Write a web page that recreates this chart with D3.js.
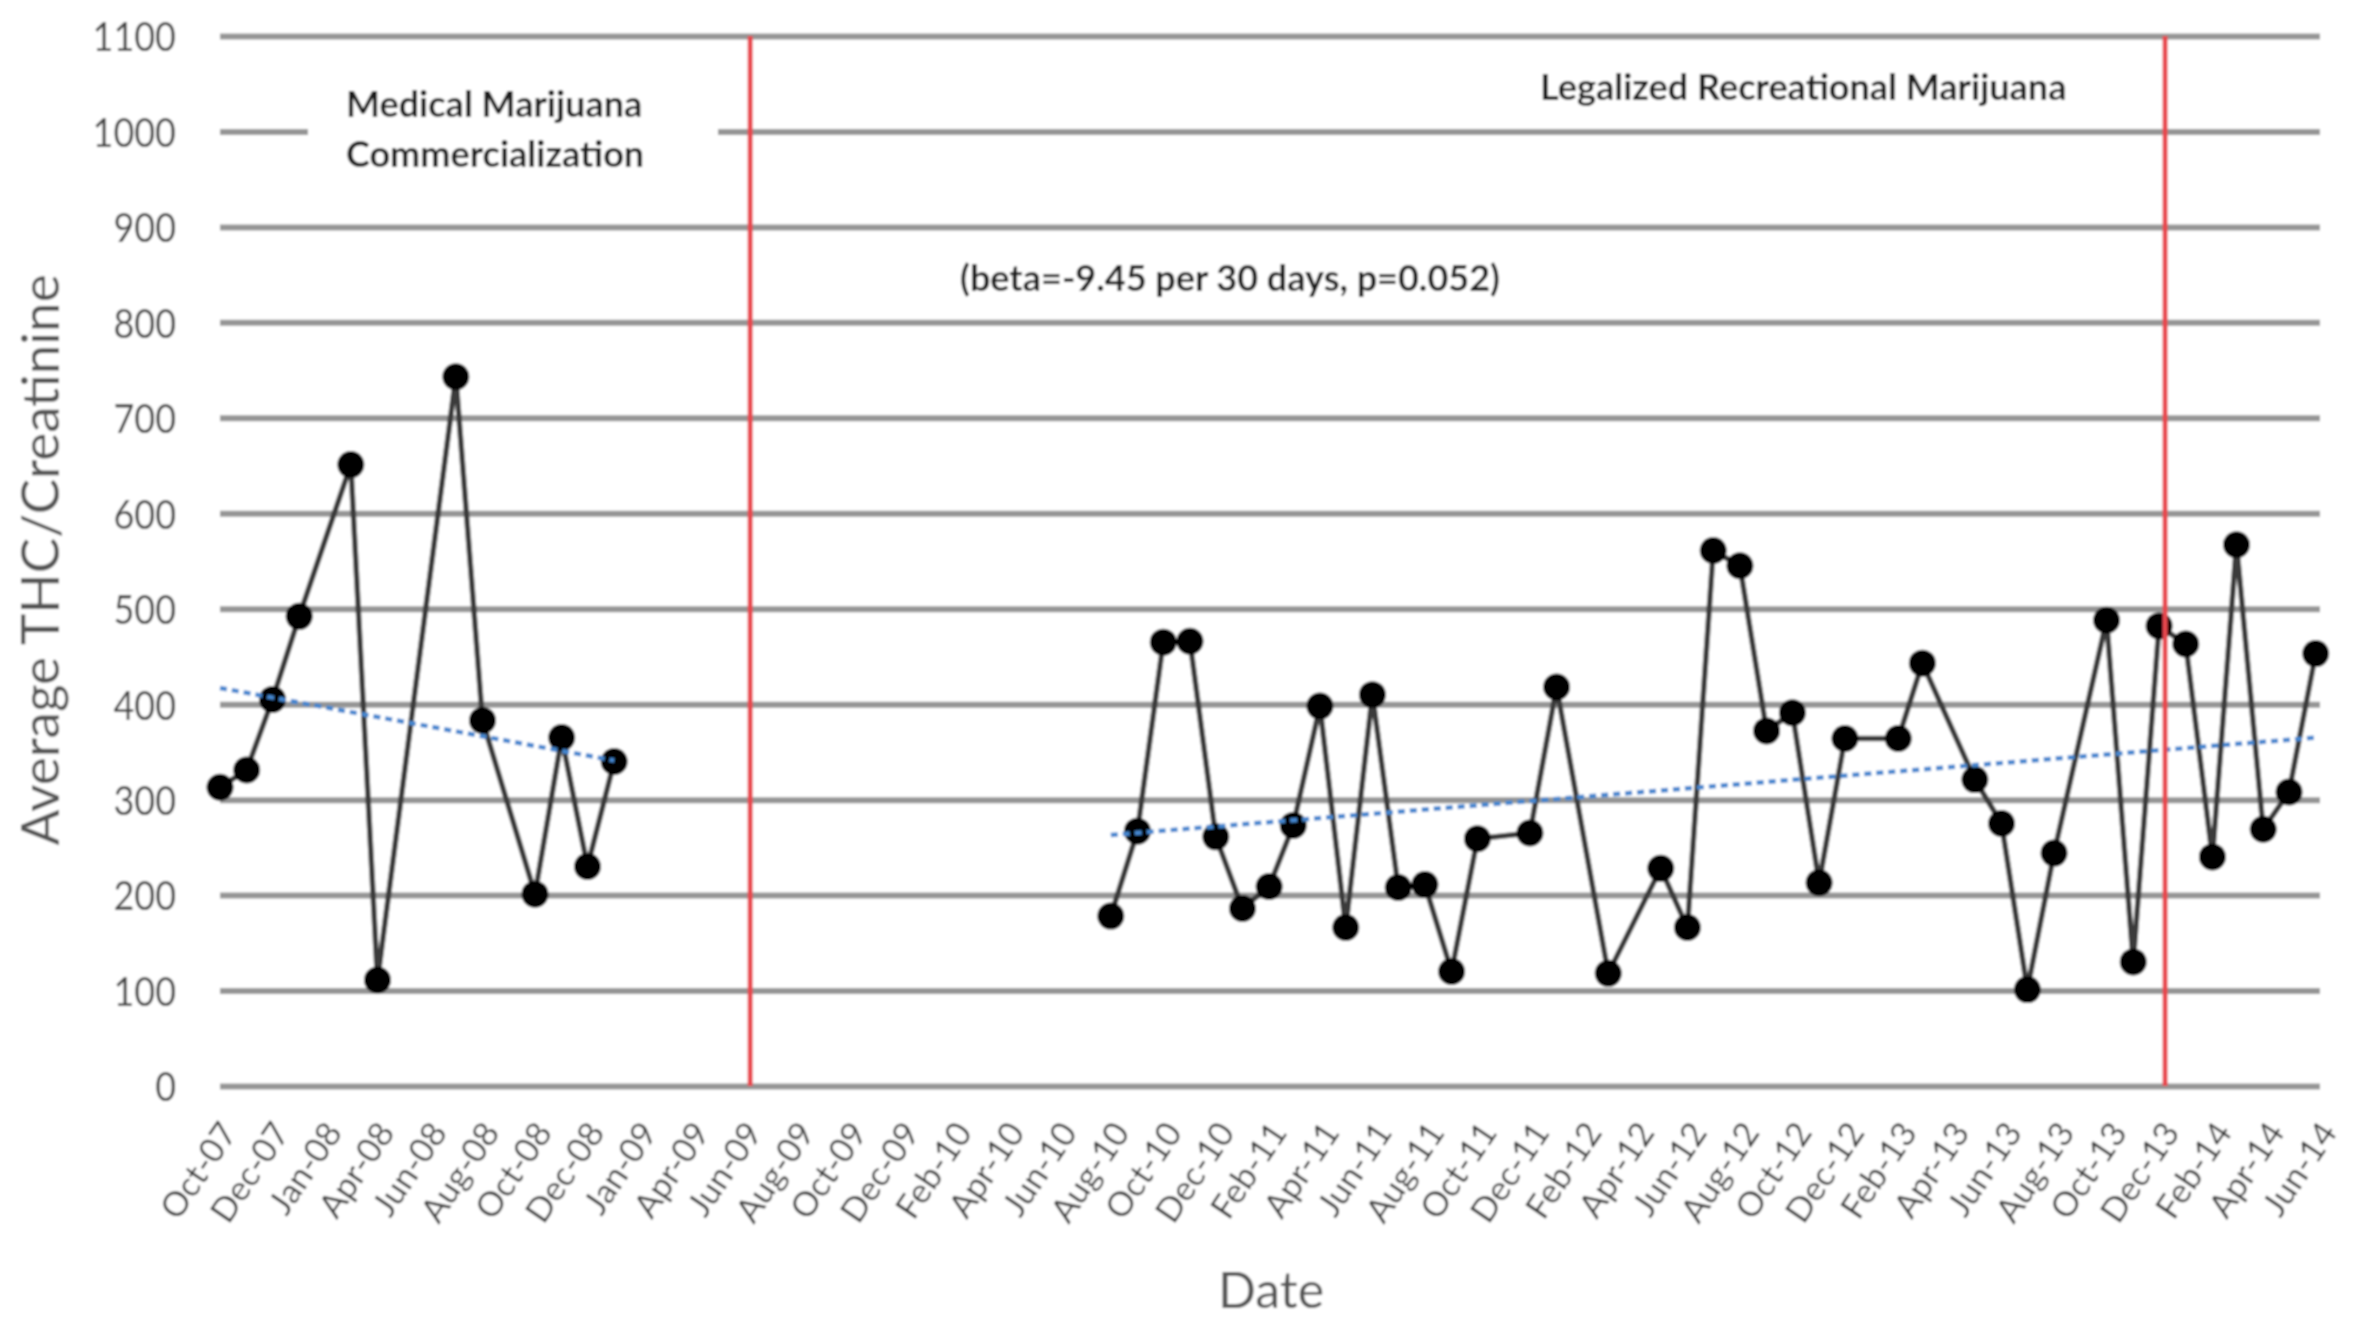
<!DOCTYPE html>
<html>
<head>
<meta charset="utf-8">
<script src="https://cdn.jsdelivr.net/npm/d3@7"></script>
<style>
  html, body { margin: 0; padding: 0; background: #fff; }
  svg { display: block; }
</style>
</head>
<body>
<svg id="chart" width="2356" height="1324"></svg>
<script>
// Monthly average THC/creatinine, two observation periods
const preMonths  = ["2007-10","2007-11","2007-12","2008-01","2008-03","2008-04","2008-07","2008-08","2008-10","2008-11","2008-12","2009-01"];
const preValues  = [313, 331, 405, 492, 651, 111, 743, 383, 201, 365, 230, 340];

const postMonths = ["2010-08","2010-09","2010-10","2010-11","2010-12","2011-01","2011-02","2011-03","2011-04","2011-05",
                    "2011-06","2011-07","2011-08","2011-09","2011-10","2011-12","2012-01","2012-03","2012-05","2012-06",
                    "2012-07","2012-08","2012-09","2012-10","2012-11","2012-12","2013-02","2013-03","2013-05","2013-06",
                    "2013-07","2013-08","2013-10","2013-11","2013-12","2014-01","2014-02","2014-03","2014-04","2014-05","2014-06"];
const postValues = [178, 267, 465, 466, 261, 186, 209, 273, 398, 166,
                    410, 208, 211, 120, 259, 265, 418, 118, 228, 166,
                    561, 545, 372, 391, 213, 364, 364, 443, 321, 275,
                    101, 244, 488, 130, 482, 463, 240, 567, 269, 308, 453];

// Linear trend lines (start and end of each period)
const preTrendMonths  = ["2007-10", "2009-01"];
const preTrendValues  = [417, 341];
const postTrendMonths = ["2010-08", "2014-06"];
const postTrendValues = [263, 365];

// Policy change markers
const eventDates = ["2009-06-08", "2013-12-08"];

// Date axis: labels every 61 days starting 1 Oct 2007
const axisStart = "2007-10-01";
const tickStepDays = 61;
const tickLabels = ["Oct-07","Dec-07","Jan-08","Apr-08","Jun-08","Aug-08","Oct-08","Dec-08","Jan-09","Apr-09",
                    "Jun-09","Aug-09","Oct-09","Dec-09","Feb-10","Apr-10","Jun-10","Aug-10","Oct-10","Dec-10",
                    "Feb-11","Apr-11","Jun-11","Aug-11","Oct-11","Dec-11","Feb-12","Apr-12","Jun-12","Aug-12",
                    "Oct-12","Dec-12","Feb-13","Apr-13","Jun-13","Aug-13","Oct-13","Dec-13","Feb-14","Apr-14","Jun-14"];
const yTicks = [0, 100, 200, 300, 400, 500, 600, 700, 800, 900, 1000, 1100];

const parseMonth = d3.utcParse("%Y-%m");
const parseDay = d3.utcParse("%Y-%m-%d");
const FONT = "Lato, 'Open Sans', sans-serif";

const svg = d3.select("#chart");
const defs = svg.append("defs");
defs.append("filter").attr("id", "soft")
  .attr("filterUnits", "userSpaceOnUse")
  .attr("x", 0).attr("y", 0).attr("width", 2356).attr("height", 1324)
  .append("feGaussianBlur").attr("stdDeviation", 1.3);

const root = svg.append("g").attr("filter", "url(#soft)");
root.append("rect").attr("width", 2356).attr("height", 1324).attr("fill", "#fff");

const plot = { left: 220, right: 2320, top: 36, bottom: 1086 };

const start = parseDay(axisStart);
const end = d3.utcDay.offset(start, tickStepDays * (tickLabels.length - 1));
const x = d3.scaleUtc().domain([start, end]).range([plot.left, plot.right]);
const y = d3.scaleLinear().domain([0, 1100]).range([plot.bottom, plot.top]);

const tickDates = tickLabels.map((_, i) => d3.utcDay.offset(start, tickStepDays * i));

// Horizontal gridlines and value labels
const yAxis = d3.axisLeft(y).tickValues(yTicks).tickFormat(d3.format("d"))
  .tickSize(-(plot.right - plot.left)).tickPadding(44);
const gy = root.append("g").attr("transform", `translate(${plot.left},0)`).call(yAxis);
gy.select(".domain").remove();
gy.selectAll(".tick line").attr("stroke", "#959595").attr("stroke-width", 6);
gy.selectAll(".tick text")
  .attr("fill", "#444").attr("font-family", FONT)
  .attr("font-size", 36).attr("dy", "0.36em")
  .attr("transform", "scale(1,1.15)");

// Date axis labels
const xAxis = d3.axisBottom(x).tickValues(tickDates).tickSize(0)
  .tickFormat((d, i) => tickLabels[i]);
const gx = root.append("g").attr("transform", `translate(0,${plot.bottom})`).call(xAxis);
gx.select(".domain").remove();
gx.selectAll(".tick text")
  .attr("fill", "#404040").attr("font-family", FONT)
  .attr("font-size", 34)
  .attr("text-anchor", "end")
  .attr("x", 0).attr("y", 0).attr("dy", "0.35em")
  .attr("transform", "translate(8,40) rotate(-56)");

// Box behind the first annotation (breaks the 1000 gridline)
root.append("rect")
  .attr("x", 308).attr("y", 70).attr("width", 410).attr("height", 112)
  .attr("fill", "#fff");

// Series and markers
const line = d3.line().x(d => x(d[0])).y(d => y(d[1]));

function series(months, values) {
  return months.map((m, i) => [parseMonth(m), values[i]]);
}

const pre = series(preMonths, preValues);
const post = series(postMonths, postValues);

[pre, post].forEach(s => {
  root.append("path").datum(s).attr("d", line)
    .attr("fill", "none").attr("stroke", "#3a3a3a").attr("stroke-width", 5.5)
    .attr("stroke-linejoin", "round");
  root.append("g").selectAll("circle").data(s).join("circle")
    .attr("cx", d => x(d[0])).attr("cy", d => y(d[1])).attr("r", 13.5)
    .attr("fill", "#000");
});

// Trend lines
[series(preTrendMonths, preTrendValues), series(postTrendMonths, postTrendValues)].forEach(s => {
  root.append("path").datum(s).attr("d", line)
    .attr("fill", "none").attr("stroke", "#4586cf").attr("stroke-width", 4.5)
    .attr("stroke-dasharray", "7 5");
});

// Event lines
root.append("g").selectAll("line").data(eventDates.map(parseDay)).join("line")
  .attr("x1", d => x(d)).attr("x2", d => x(d))
  .attr("y1", y(1100)).attr("y2", y(0))
  .attr("stroke", "#e8474d").attr("stroke-width", 5);

// Annotations
const note = (txt, cx, cy) => root.append("text")
  .attr("x", cx).attr("y", cy).attr("dy", "0.35em").attr("text-anchor", "start")
  .attr("font-family", FONT).attr("font-weight", 700)
  .attr("font-size", 36).attr("fill", "#1a1a1a").text(txt);

note("Medical Marijuana", 346, 104);
note("Commercialization", 346, 154);
note("Legalized Recreational Marijuana", 1540, 87);
note("(beta=-9.45 per 30 days, p=0.052)", 960, 278);

// Axis titles
root.append("text")
  .attr("transform", `translate(40,560) rotate(-90)`)
  .attr("text-anchor", "middle").attr("dy", "0.35em")
  .attr("font-family", FONT).attr("font-size", 53)
  .attr("fill", "#555").text("Average THC/Creatinine");

root.append("text")
  .attr("x", 1271).attr("y", 1290).attr("dy", "0.35em").attr("text-anchor", "middle")
  .attr("font-family", FONT).attr("font-size", 50)
  .attr("fill", "#555").text("Date");
</script>
</body>
</html>
